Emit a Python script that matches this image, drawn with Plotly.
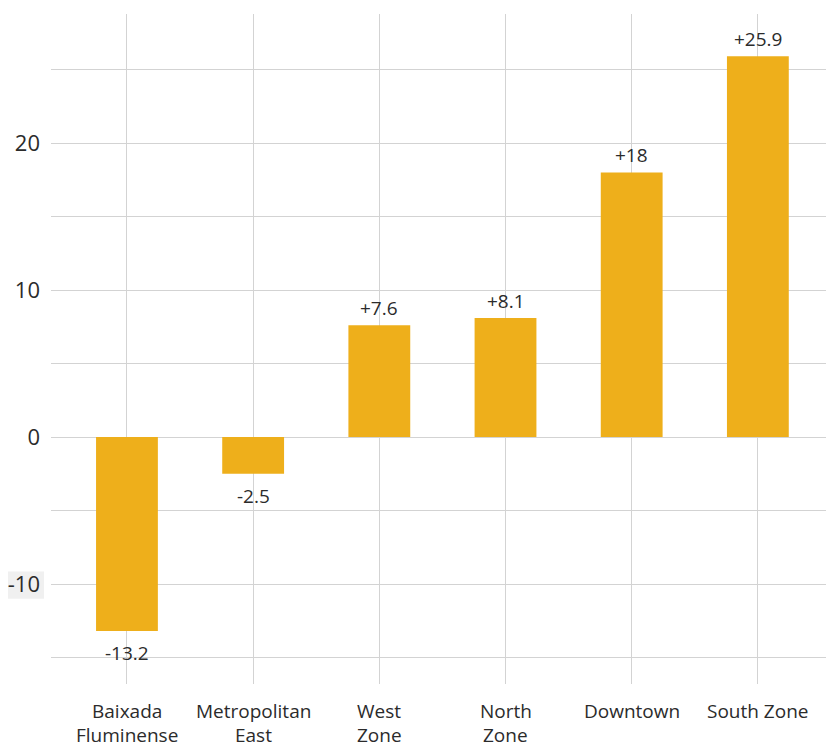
import plotly.graph_objects as go

regions = ["Baixada Fluminense", "Metropolitan East", "West Zone", "North Zone", "Downtown", "South Zone"]
region_lines = [["Baixada", "Fluminense"], ["Metropolitan", "East"], ["West", "Zone"],
                ["North", "Zone"], ["Downtown"], ["South Zone"]]
change = [-13.2, -2.5, 7.6, 8.1, 18, 25.9]
y_ticks = [-10, 0, 10, 20]

bar_color = "#EEAF1B"
grid_color = "#D3D3D3"
text_color = "#2b2b2b"
font_family = "Open Sans"

labels = [f"+{v:g}" if v > 0 else f"{v:g}" for v in change]

fig = go.Figure(
    go.Bar(
        x=regions,
        y=change,
        width=0.49,
        marker=dict(color=bar_color, line=dict(width=0)),
        hoverinfo="skip",
    )
)

# value labels: above positive bars, below negative ones
for name, v, lab in zip(regions, change, labels):
    fig.add_annotation(
        x=name, y=v, xref="x", yref="y",
        text=lab, showarrow=False,
        yanchor="bottom" if v > 0 else "top",
        yshift=2 if v > 0 else -7,
        font=dict(size=19, color=text_color, family=font_family),
    )

# category labels below the plot, one annotation per text line
for name, lines in zip(regions, region_lines):
    for i, line in enumerate(lines):
        fig.add_annotation(
            x=name, y=0, xref="x", yref="paper",
            text=line, showarrow=False,
            yanchor="middle",
            yshift=-27 - 24 * i,
            borderpad=0,
            font=dict(size=19, color=text_color, family=font_family),
        )

fig.update_layout(
    width=826,
    height=747,
    margin=dict(l=51, r=0, t=14, b=63),
    paper_bgcolor="white",
    plot_bgcolor="white",
    font=dict(family=font_family, color=text_color),
    showlegend=False,
    xaxis=dict(
        range=[-0.602, 5.54],
        showgrid=True,
        gridcolor=grid_color,
        gridwidth=1,
        zeroline=False,
        showline=False,
        ticks="",
        showticklabels=False,
    ),
    yaxis=dict(
        range=[-16.8, 28.78],
        tickvals=y_ticks,
        ticktext=[str(t) for t in y_ticks],
        minor=dict(dtick=5, tick0=0, showgrid=True, gridcolor=grid_color, gridwidth=1),
        showgrid=True,
        gridcolor=grid_color,
        gridwidth=1,
        zeroline=False,
        showline=False,
        ticks="",
        ticklabelstandoff=10,
        tickfont=dict(size=22, color=text_color),
    ),
)

# light highlight box behind the -10 tick label
fig.add_shape(
    type="rect",
    xref="paper",
    yref="y",
    x0=-43 / 775,
    x1=-7 / 775,
    y0=-11.0,
    y1=-9.15,
    fillcolor="#F0F0F0",
    line=dict(width=0),
    layer="below",
)

fig.write_html("out.html")
